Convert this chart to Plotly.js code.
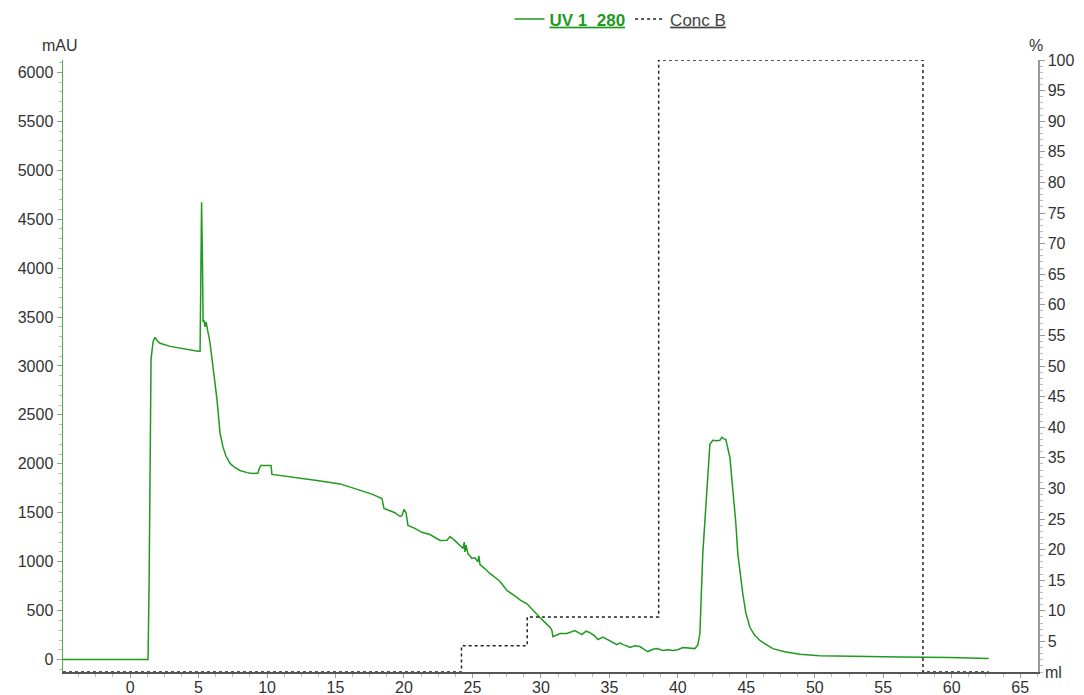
<!DOCTYPE html>
<html>
<head>
<meta charset="utf-8">
<script src="https://cdn.plot.ly/plotly-3.0.1.min.js"></script>
<style>html,body{margin:0;padding:0;background:#fff;}#chart{width:1084px;height:695px;}</style>
</head>
<body>
<div id="chart"></div>
<script>
// UV 1_280 trace (ml, mAU)
var uvVolume = [-4.9,1.31,1.39,1.53,1.68,1.82,1.97,2.19,2.92,3.65,4.38,4.96,5.11,5.15,5.22,5.29,5.33,5.40,5.47,5.55,5.62,5.69,5.77,5.84,6.06,6.35,6.57,6.79,7.0,7.30,7.66,8.03,8.54,8.98,9.34,9.42,9.56,10.29,10.36,11.68,13.65,15.33,16.64,17.66,18.39,18.54,19.34,19.71,19.85,20.0,20.15,20.29,20.8,21.3,21.9,22.4,22.63,23.14,23.36,23.72,24.09,24.31,24.4,24.45,24.53,24.67,24.82,24.96,25.18,25.4,25.47,25.55,25.9,26.28,27.0,27.52,28.1,28.47,28.98,29.42,29.93,30.29,30.66,30.8,30.88,31.39,31.9,32.48,32.99,33.3,33.58,33.94,34.16,34.53,34.89,35.18,35.55,35.77,35.99,36.28,36.5,36.86,37.23,37.59,37.81,38.18,38.47,38.91,39.27,39.64,40.0,40.37,40.73,41.24,41.46,41.61,41.82,42.12,42.34,42.55,42.85,43.07,43.21,43.36,43.5,43.8,44.01,44.23,44.38,44.53,44.74,44.96,45.26,45.6,45.99,46.5,46.93,47.8,48.9,50.36,52.55,56.2,59.85,62.7];
var uvAbs = [0,0,800,3070,3250,3292,3260,3231,3200,3180,3165,3150,3150,3600,4673,4000,3450,3466,3400,3450,3380,3343,3290,3231,2986,2648,2311,2168,2080,2004,1960,1932,1910,1900,1905,1950,1984,1984,1892,1870,1830,1795,1738,1690,1646,1544,1500,1462,1470,1534,1500,1370,1340,1300,1278,1240,1217,1220,1258,1215,1170,1135,1200,1100,1170,1080,1060,1033,1040,1000,1060,970,930,880,800,705,650,610,570,510,430,380,330,300,235,266,266,296,255,290,276,240,204,230,204,180,153,170,153,140,123,140,133,100,82,105,112,92,100,92,100,123,118,112,150,266,1080,1760,2200,2240,2235,2240,2270,2255,2250,2065,1760,1400,1080,900,675,480,330,250,195,150,112,80,55,40,32,25,20,10];

// Conc B trace (ml, %)
var concVolume = [-4.9,24.2,24.2,29.0,29.0,38.6,38.6,57.9,57.9,62.7];
var concPct = [0,0,4.3,4.3,9.0,9.0,100,100,0,0];

var xTicks = [0,5,10,15,20,25,30,35,40,45,50,55,60,65];
var yTicks = [0,500,1000,1500,2000,2500,3000,3500,4000,4500,5000,5500,6000];
var y2Ticks = [5,10,15,20,25,30,35,40,45,50,55,60,65,70,75,80,85,90,95,100];

var tickFont = {family: 'Liberation Sans, Arial, sans-serif', size: 16, color: '#333'};

var traces = [
  {
    x: uvVolume, y: uvAbs, type: 'scatter', mode: 'lines',
    name: '<span style="color:#1f9a1f"><b><u>UV 1_280</u></b></span>',
    line: {color: '#1f9a1f', width: 1.5},
    yaxis: 'y'
  },
  {
    x: concVolume, y: concPct, type: 'scatter', mode: 'lines',
    name: '<span style="color:#444"><u>Conc B</u></span>',
    line: {color: '#222', width: 1.5, dash: 'dot'},
    yaxis: 'y2'
  }
];

var layout = {
  width: 1084, height: 695,
  margin: {l: 63, r: 46, t: 60, b: 23},
  paper_bgcolor: '#fff', plot_bgcolor: '#fff',
  font: tickFont,
  showlegend: true,
  legend: {
    orientation: 'h', xref: 'container', yref: 'container',
    x: 0.470, xanchor: 'left', y: 0.972, yanchor: 'middle',
    font: {family: 'Liberation Sans, Arial, sans-serif', size: 17, color: '#444'},
    bgcolor: 'rgba(0,0,0,0)', itemwidth: 30
  },
  xaxis: {
    range: [-4.9, 66.3], tickvals: xTicks, ticktext: xTicks.map(String),
    showgrid: false, zeroline: false,
    showline: true, linecolor: '#555', linewidth: 1.5,
    ticks: 'outside', ticklen: 4, tickcolor: '#999', ticklabelstandoff: -4,
    minor: {dtick: 1.25, ticks: 'outside', ticklen: 3, tickcolor: '#bbb', showgrid: false},
    tickfont: tickFont
  },
  yaxis: {
    range: [-127, 6126], tickvals: yTicks, ticktext: yTicks.map(String),
    showgrid: false, zeroline: false,
    showline: true, linecolor: '#4caf50', linewidth: 1.5,
    ticks: 'outside', ticklen: 5, tickcolor: '#999',
    minor: {dtick: 100, ticks: 'outside', ticklen: 3, tickcolor: '#bbb', showgrid: false},
    tickfont: tickFont
  },
  yaxis2: {
    range: [0, 100], overlaying: 'y', side: 'right',
    tickvals: y2Ticks, ticktext: y2Ticks.map(String),
    showgrid: false, zeroline: false,
    showline: true, linecolor: '#999', linewidth: 1.5,
    ticks: 'outside', ticklen: 5, tickcolor: '#999',
    minor: {dtick: 1, ticks: 'outside', ticklen: 3, tickcolor: '#bbb', showgrid: false},
    tickfont: tickFont
  },
  annotations: [
    {text: 'mAU', xref: 'paper', yref: 'paper', x: 0, y: 1, xanchor: 'center', yanchor: 'bottom', xshift: -3, yshift: 4, showarrow: false, font: tickFont},
    {text: '%', xref: 'paper', yref: 'paper', x: 1, y: 1, xanchor: 'center', yanchor: 'bottom', xshift: -2, yshift: 4, showarrow: false, font: tickFont},
    {text: 'ml', xref: 'paper', yref: 'paper', x: 1, y: 0, xanchor: 'left', yanchor: 'middle', xshift: 5, showarrow: false, font: tickFont}
  ]
};

Plotly.newPlot('chart', traces, layout, {displayModeBar: false, staticPlot: true});
</script>
</body>
</html>
